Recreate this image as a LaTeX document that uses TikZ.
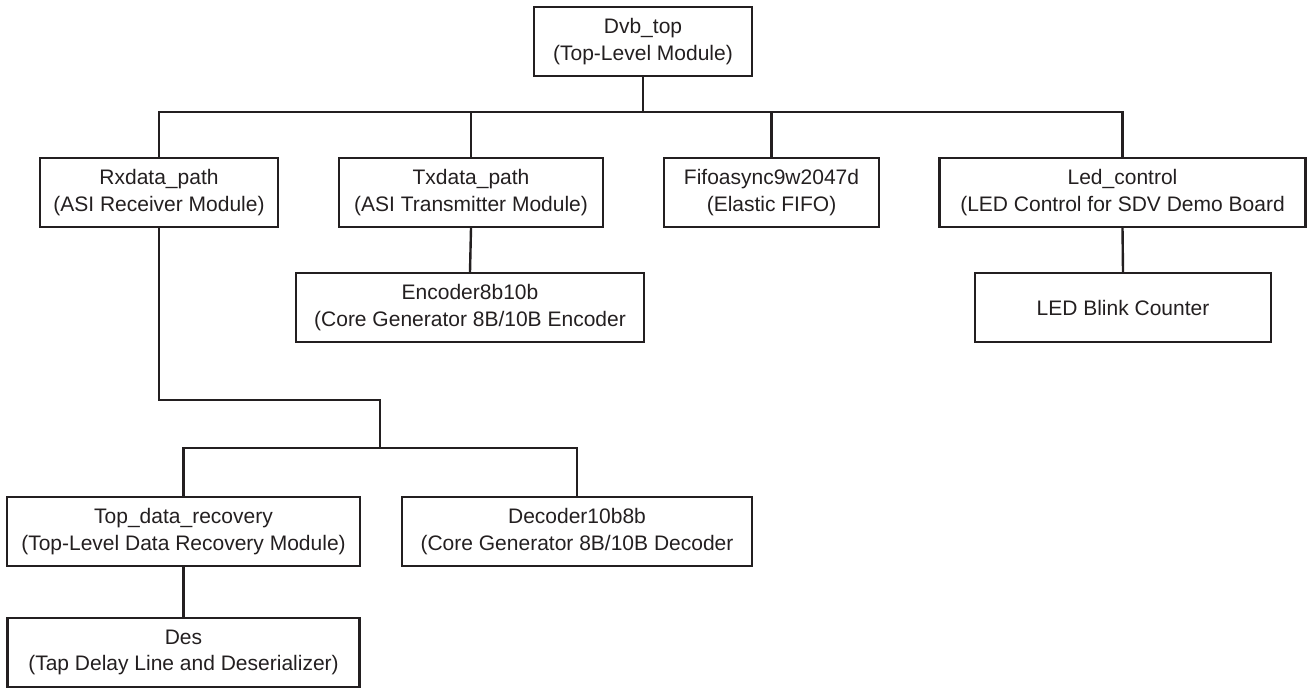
\documentclass[tikz,border=0pt]{standalone}
\usepackage{fontspec}
\setmainfont{Liberation Sans}
\definecolor{ink}{HTML}{231F20}
\newcommand{\topstrut}{\rule{0pt}{21pt}}
\begin{document}
\begin{tikzpicture}[x=1pt,y=-1pt,
  modbox/.style={draw=ink, text=ink, line width=2.4pt, inner sep=0pt,
    minimum height=69pt, align=center,
    font=\fontsize{21}{26.7}\selectfont},
  twoline/.style={modbox, execute at begin node=\topstrut},
  wire/.style={draw=ink, line width=2.4pt}]
\useasboundingbox (0,0) rectangle (1308,688);

% top level
\node[twoline, minimum width=218pt] (dvb) at (643,41.5) {Dvb\_top\\(Top-Level Module)};

% second level
\node[twoline, minimum width=238pt] (rx)   at (159,192.5)   {Rxdata\_path\\(ASI Receiver Module)};
\node[twoline, minimum width=264pt] (tx)   at (471,192.5)   {Txdata\_path\\(ASI Transmitter Module)};
\node[twoline, minimum width=215pt] (fifo) at (771.5,192.5) {Fifoasync9w2047d\\(Elastic FIFO)};
\node[twoline, minimum width=366pt] (led)  at (1122.5,192.5) {Led\_control\\(LED Control for SDV Demo Board};

% third level
\node[twoline, minimum width=348pt] (enc)   at (470,307.5)  {Encoder8b10b\\(Core Generator 8B/10B Encoder};
\node[modbox,  minimum width=296pt] (blink) at (1123,307.5) {LED Blink Counter};

% receiver sub-modules
\node[twoline, minimum width=353pt] (tdr) at (183.5,531.5) {Top\_data\_recovery\\(Top-Level Data Recovery Module)};
\node[twoline, minimum width=350pt] (dec) at (577,531.5)   {Decoder10b8b\\(Core Generator 8B/10B Decoder};
\node[twoline, minimum width=352pt] (des) at (183.5,652.5) {Des\\(Tap Delay Line and Deserializer)};

% bus junctions
\coordinate (bus1) at (643,112);
\coordinate (jog)  at (380,400);
\coordinate (bus2) at (380,448);

% connectors
\draw[wire] (dvb.south) -- (bus1);
\draw[wire] (rx.north) |- (bus1) -| (led.north);
\draw[wire] (tx.north) -- (tx.north |- bus1);
\draw[wire] (fifo.north) -- (fifo.north |- bus1);
\draw[wire] (tx.south) -- (enc.north);
\draw[wire] (led.south) -- (blink.north);
\draw[wire] (rx.south) |- (jog) -- (bus2);
\draw[wire] (tdr.north) |- (bus2) -| (dec.north);
\draw[wire] (tdr.south) -- (des.north);
\end{tikzpicture}
\end{document}
